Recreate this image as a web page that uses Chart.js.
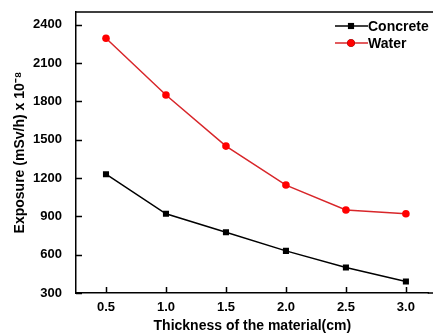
<!DOCTYPE html>
<html>
<head>
<meta charset="utf-8">
<title>Exposure vs thickness</title>
<script src="https://cdn.jsdelivr.net/npm/chart.js@4/dist/chart.umd.min.js"></script>
<style>
    html, body { margin: 0; padding: 0; background: #fff; }
    #graph { display: block; }
</style>
</head>
<body>
<canvas id="graph" width="433" height="335"></canvas>
<script>
// ============================================
// Donnees
// ============================================
var epaisseurs = [0.5, 1.0, 1.5, 2.0, 2.5, 3.0];
var concrete = [1230, 920, 775, 630, 500, 390];
var water = [2295, 1850, 1450, 1145, 950, 920];
var ticksX = [0.5, 1.0, 1.5, 2.0, 2.5, 3.0];
var ticksY = [300, 600, 900, 1200, 1500, 1800, 2100, 2400];

var police = "'Liberation Sans', Arial, sans-serif";

function points(ys) {
    return epaisseurs.map(function (x, i) { return { x: x, y: ys[i] }; });
}

// Cadre du haut + graduations vers l'interieur
var cadre = {
    id: "cadre",
    afterDraw: function (chart) {
        var a = chart.chartArea;
        var ctx = chart.ctx;
        var sx = chart.scales.x;
        var sy = chart.scales.y;
        ctx.save();
        ctx.strokeStyle = "#000";
        ctx.lineWidth = 1.5;
        ctx.beginPath();
        ctx.moveTo(a.left, a.top);
        ctx.lineTo(chart.width, a.top);
        ctx.moveTo(a.right - 1, a.bottom);
        ctx.lineTo(chart.width, a.bottom);
        sx.ticks.forEach(function (t) {
            var px = Math.round(sx.getPixelForValue(t.value)) + 0.5;
            ctx.moveTo(px, a.bottom);
            ctx.lineTo(px, a.bottom - 6);
        });
        sy.ticks.forEach(function (t) {
            var py = Math.round(sy.getPixelForValue(t.value)) + 0.5;
            ctx.moveTo(a.left, py);
            ctx.lineTo(a.left + 6, py);
        });
        ctx.stroke();
        ctx.restore();
    }
};

// Legende : trait + marqueur, en haut a droite
var legende = {
    id: "legende",
    afterDraw: function (chart) {
        var ctx = chart.ctx;
        ctx.save();
        chart.data.datasets.forEach(function (ds, i) {
            var y = 26 + i * 17;
            ctx.strokeStyle = ds.borderColor;
            ctx.lineWidth = 1.5;
            ctx.beginPath();
            ctx.moveTo(335, y);
            ctx.lineTo(368, y);
            ctx.stroke();
            Chart.helpers.drawPoint(ctx, {
                pointStyle: ds.pointStyle,
                radius: ds.pointRadius,
                borderWidth: 0
            }, 351, y);
            ctx.fillStyle = ds.pointBackgroundColor;
            ctx.fill();
            ctx.fillStyle = "#000";
            ctx.font = "bold 14px " + police;
            ctx.textBaseline = "middle";
            ctx.textAlign = "left";
            ctx.fillText(ds.label, 368, y + 1);
        });
        ctx.restore();
    }
};

// pas de marge automatique pour les etiquettes
function sansMarge(scale) {
    scale.paddingTop = 0;
    scale.paddingBottom = 0;
    scale.paddingLeft = 0;
    scale.paddingRight = 0;
}

var ctx = document.getElementById("graph").getContext("2d");
new Chart(ctx, {
    type: "line",
    data: {
        datasets: [
            {
                label: "Concrete",
                data: points(concrete),
                borderColor: "#000",
                borderWidth: 1.5,
                pointStyle: "rect",
                pointRadius: 4.3,
                pointBackgroundColor: "#000",
                pointBorderWidth: 0,
                tension: 0
            },
            {
                label: "Water",
                data: points(water),
                borderColor: "#d8262a",
                borderWidth: 1.5,
                pointStyle: "circle",
                pointRadius: 3.8,
                pointBackgroundColor: "#f00",
                pointBorderWidth: 0,
                tension: 0
            }
        ]
    },
    options: {
        responsive: false,
        animation: false,
        layout: { padding: { top: 12, left: 0, right: 0, bottom: 0 } },
        plugins: {
            legend: { display: false },
            tooltip: { enabled: false }
        },
        scales: {
            x: {
                type: "linear",
                min: 0.25,
                max: 3.19,
                afterBuildTicks: function (scale) {
                    scale.ticks = ticksX.map(function (v) { return { value: v }; });
                },
                afterFit: function (scale) { scale.height = 42; sansMarge(scale); },
                grid: { display: false, drawTicks: false, tickLength: 0 },
                border: { color: "#000", width: 1.5 },
                ticks: {
                    color: "#000",
                    padding: 7,
                    maxRotation: 0,
                    font: { family: police, size: 13, weight: "bold" },
                    callback: function (v) { return v.toFixed(1); }
                },
                title: {
                    display: true,
                    text: "Thickness of the material(cm)",
                    color: "#000",
                    padding: { top: 0, bottom: 0 },
                    font: { family: police, size: 14, weight: "bold" }
                }
            },
            y: {
                min: 300,
                max: 2500,
                afterBuildTicks: function (scale) {
                    scale.ticks = ticksY.map(function (v) { return { value: v }; });
                },
                afterFit: function (scale) { scale.width = 76; sansMarge(scale); },
                grid: { display: false, drawTicks: false, tickLength: 0 },
                border: { color: "#000", width: 1.5 },
                ticks: {
                    color: "#000",
                    padding: 14,
                    font: { family: police, size: 13, weight: "bold" },
                    callback: function (v) { return String(v); }
                },
                title: {
                    display: true,
                    text: "Exposure (mSv/h) x 10\u207B\u2078",
                    color: "#000",
                    padding: { top: 12, bottom: 0 },
                    font: { family: police, size: 14, weight: "bold" }
                }
            }
        }
    },
    plugins: [cadre, legende]
});
</script>
</body>
</html>
